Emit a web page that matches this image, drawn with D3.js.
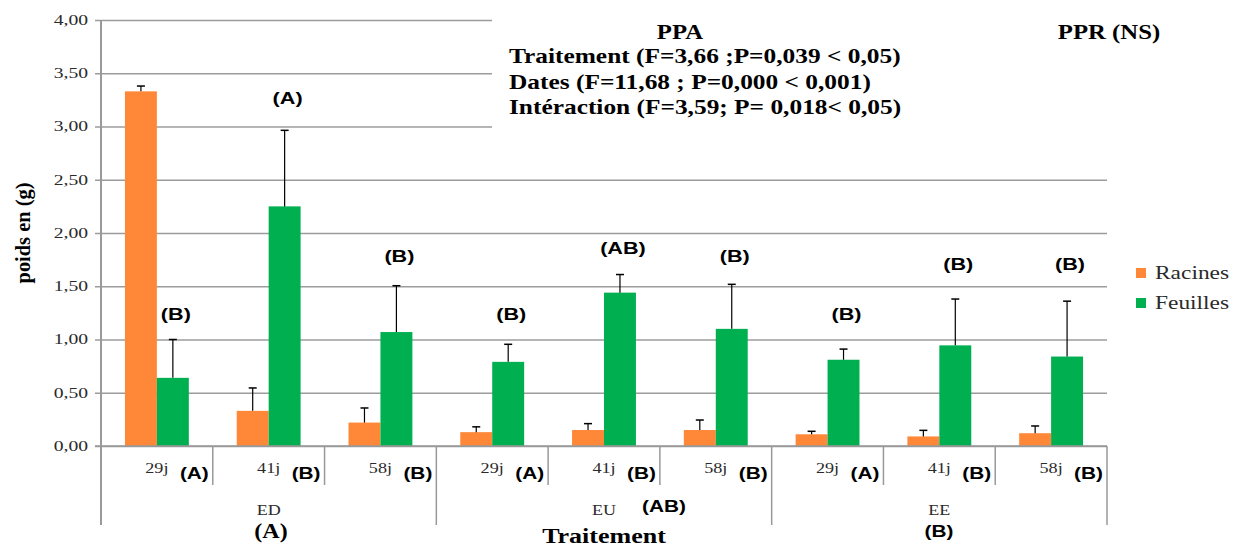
<!DOCTYPE html>
<html><head><meta charset="utf-8">
<script src="https://cdnjs.cloudflare.com/ajax/libs/d3/7.8.5/d3.min.js"></script>
<style>
body{margin:0;background:#fff}
svg{display:block}
.serif{font-family:"Liberation Serif","Times New Roman",Times,"DejaVu Serif",serif}
.sans{font-family:"Liberation Sans",Arial,Helvetica,sans-serif}
.lbl{fill:#2a2a2a}
</style>
</head><body><svg id="chart" width="1238" height="549"></svg>
<script>
// Treatments, sampling dates and the two plant parts
const groups = ["ED", "EU", "EE"];
const dates = ["29j", "41j", "58j"];
const seriesNames = ["Racines", "Feuilles"];

// Mean dry weight (g), ordered ED 29j/41j/58j, EU ..., EE ...
const racines = [3.33, 0.33, 0.22, 0.13, 0.15, 0.15, 0.11, 0.09, 0.12];
const racinesErr = [0.05, 0.215, 0.137, 0.05, 0.06, 0.094, 0.028, 0.057, 0.068];
const feuilles = [0.64, 2.25, 1.07, 0.79, 1.44, 1.10, 0.81, 0.945, 0.84];
const feuillesErr = [0.36, 0.714, 0.435, 0.165, 0.17, 0.418, 0.10, 0.435, 0.52];

// Significance letters per bar pair, per date and per treatment
const barLetters = ["(B)", "(A)", "(B)", "(B)", "(AB)", "(B)", "(B)", "(B)", "(B)"];
const barLetterLevel = [1.24, 3.27, 1.78, 1.24, 1.86, 1.78, 1.24, 1.71, 1.71];
const dateLetters = ["(A)", "(B)", "(B)", "(A)", "(B)", "(B)", "(A)", "(B)", "(B)"];
const groupLetters = ["(A)", "(AB)", "(B)"];

const yTicks = [0, 0.5, 1, 1.5, 2, 2.5, 3, 3.5, 4];
const statsTitle = "PPA";
const statsLines = [
  "Traitement (F=3,66 ;P=0,039 < 0,05)",
  "Dates (F=11,68 ; P=0,000 < 0,001)",
  "Intéraction (F=3,59; P= 0,018< 0,05)"
];
const statsRight = "PPR (NS)";

const colors = { Racines: "#FF8838", Feuilles: "#00B050" };

const svg = d3.select("#chart");
const plotLeft = 101, plotRight = 1107, plotTop = 20, base = 446;

const keys = [];
groups.forEach(g => dates.forEach(d => keys.push(g + "|" + d)));
const rows = keys.map((k, i) => ({
  key: k, group: k.split("|")[0], date: k.split("|")[1],
  vals: [
    { s: "Racines", v: racines[i], e: racinesErr[i] },
    { s: "Feuilles", v: feuilles[i], e: feuillesErr[i] }
  ], i
}));

const x = d3.scaleBand().domain(keys).range([plotLeft, plotRight]).paddingInner(0).paddingOuter(0);
const xs = d3.scaleBand().domain(seriesNames).range([0, x.bandwidth()]).paddingInner(0).paddingOuter(0.75);
const y = d3.scaleLinear().domain([0, 4]).range([base, plotTop]);
const fr = d3.formatLocale({ decimal: ",", thousands: " ", grouping: [3], currency: ["", ""] });
const fmt = fr.format(".2f");

// stretch text horizontally by a factor
function stretch(sel, k) {
  sel.each(function () {
    const w = this.getComputedTextLength();
    this.setAttribute("textLength", w * k);
    this.setAttribute("lengthAdjust", "spacingAndGlyphs");
  });
}

// gridlines + y axis
const yAxis = d3.axisLeft(y).tickValues(yTicks).tickSize(-(plotRight - plotLeft)).tickFormat(fmt).tickPadding(13);
const gy = svg.append("g").attr("transform", `translate(${plotLeft},0)`).call(yAxis)
  .attr("font-family", null).attr("class", "serif");
gy.select(".domain").remove();
gy.selectAll(".tick line").attr("stroke", "#9C9C9C").attr("stroke-width", 1.5).attr("x1", -6);
gy.selectAll(".tick text").attr("class", "lbl")
  .attr("font-size", 14).attr("fill", null)
  .attr("dy", "0.32em").call(stretch, 1.4);

// bars
const gBars = svg.append("g");
const cat = gBars.selectAll("g.cat").data(rows).join("g").attr("class", "cat")
  .attr("transform", d => `translate(${x(d.key)},0)`);
cat.selectAll("rect").data(d => d.vals).join("rect")
  .attr("x", d => xs(d.s)).attr("width", xs.bandwidth())
  .attr("y", d => y(d.v)).attr("height", d => y(0) - y(d.v))
  .attr("fill", d => colors[d.s]);

// upper error bars
cat.selectAll("g.err").data(d => d.vals).join("g").attr("class", "err").each(function (d) {
  const cx = xs(d.s) + xs.bandwidth() / 2;
  const g = d3.select(this);
  g.append("line").attr("x1", cx).attr("x2", cx).attr("y1", y(d.v)).attr("y2", y(d.v + d.e))
    .attr("stroke", "#000").attr("stroke-width", 1.2);
  g.append("line").attr("x1", cx - 4).attr("x2", cx + 4).attr("y1", y(d.v + d.e)).attr("y2", y(d.v + d.e))
    .attr("stroke", "#000").attr("stroke-width", 1.5);
});

// x axis: baseline and category separators
const axisCol = "#999";
svg.append("line").attr("x1", plotLeft - 6).attr("x2", plotRight).attr("y1", base).attr("y2", base)
  .attr("stroke", axisCol).attr("stroke-width", 1.5);
svg.append("line").attr("x1", plotLeft).attr("x2", plotLeft).attr("y1", plotTop).attr("y2", base + 79)
  .attr("stroke", axisCol).attr("stroke-width", 2);
const bounds = keys.map(k => x(k)).concat([x(keys[keys.length - 1]) + x.bandwidth()]);
bounds.forEach((bx, i) => {
  if (i === 0) return;
  const isGroup = i % dates.length === 0;
  svg.append("line").attr("x1", bx).attr("x2", bx).attr("y1", base).attr("y2", isGroup ? base + 79 : base + 39)
    .attr("stroke", axisCol).attr("stroke-width", 1.5);
});

// date labels + date letters
rows.forEach(d => {
  const cx = x(d.key) + x.bandwidth() / 2;
  svg.append("text").attr("class", "serif lbl").attr("x", cx).attr("y", base + 27).attr("text-anchor", "middle")
    .attr("font-size", 14.5)
    .text(d.date).call(stretch, 1.25);
  svg.append("text").attr("class", "sans").attr("x", x(d.key) + x.bandwidth() - 4).attr("y", base + 33)
    .attr("text-anchor", "end").attr("font-weight", "bold").attr("font-size", 16).attr("fill", "#000")
    .text(dateLetters[d.i]).call(stretch, 1.3);
});

// group labels
groups.forEach(g => {
  const x0 = x(g + "|" + dates[0]);
  const x1 = x(g + "|" + dates[dates.length - 1]) + x.bandwidth();
  const cx = (x0 + x1) / 2;
  svg.append("text").attr("class", "serif lbl").attr("x", cx).attr("y", base + 69).attr("text-anchor", "middle")
    .attr("font-size", 15)
    .text(g).call(stretch, 1.2);
});
// letters under each treatment
svg.append("text").attr("class", "serif").attr("x", 271).attr("y", base + 92).attr("text-anchor", "middle")
  .attr("font-weight", "bold").attr("font-size", 20)
  .text(groupLetters[0]).call(stretch, 1.2);
svg.append("text").attr("class", "sans").attr("x", 664).attr("y", base + 66).attr("text-anchor", "middle")
  .attr("font-weight", "bold").attr("font-size", 16)
  .text(groupLetters[1]).call(stretch, 1.3);
svg.append("text").attr("class", "sans").attr("x", 939).attr("y", base + 91).attr("text-anchor", "middle")
  .attr("font-weight", "bold").attr("font-size", 16)
  .text(groupLetters[2]).call(stretch, 1.3);

// letters above the bars
rows.forEach(d => {
  const cx = x(d.key) + xs("Feuilles") + xs.bandwidth() / 2 + 3;
  svg.append("text").attr("class", "sans").attr("x", cx).attr("y", y(barLetterLevel[d.i])).attr("dy", "0.36em")
    .attr("text-anchor", "middle").attr("font-weight", "bold").attr("font-size", 16)
    .text(barLetters[d.i]).call(stretch, 1.35);
});

// statistics box
svg.append("rect").attr("x", 492).attr("y", 8).attr("width", 746).attr("height", 130).attr("fill", "#fff");
const statFont = s => s.attr("class", "serif").attr("font-weight", "bold")
  .attr("font-size", 21.5).attr("fill", "#000");
svg.append("text").attr("x", 680).attr("y", 39).attr("text-anchor", "middle").call(statFont)
  .text(statsTitle).call(stretch, 1.15);
svg.append("text").attr("x", 1109).attr("y", 39).attr("text-anchor", "middle").call(statFont)
  .text(statsRight).call(stretch, 1.15);
statsLines.forEach((t, i) => {
  svg.append("text").attr("x", 509).attr("y", 63 + i * 25.5).call(statFont).text(t).call(stretch, 1.18);
});

// axis titles
svg.append("text").attr("class", "serif").attr("x", 604).attr("y", 543).attr("text-anchor", "middle")
  .attr("font-weight", "bold").attr("font-size", 20)
  .text("Traitement").call(stretch, 1.3);
svg.append("text").attr("class", "serif").attr("transform", `translate(30,${233}) rotate(-90)`)
  .attr("text-anchor", "middle").attr("font-weight", "bold").attr("font-size", 20)
  .text("poids en (g)").call(stretch, 1.02);

// legend
const lg = svg.append("g").attr("transform", "translate(1136,268)");
seriesNames.forEach((s, i) => {
  lg.append("rect").attr("x", 0).attr("y", i * 30).attr("width", 10).attr("height", 10).attr("fill", colors[s]);
  lg.append("text").attr("class", "serif lbl").attr("x", 19).attr("y", i * 30 + 11)
    .attr("font-size", 18)
    .text(s).call(stretch, 1.3);
});
</script></body></html>
